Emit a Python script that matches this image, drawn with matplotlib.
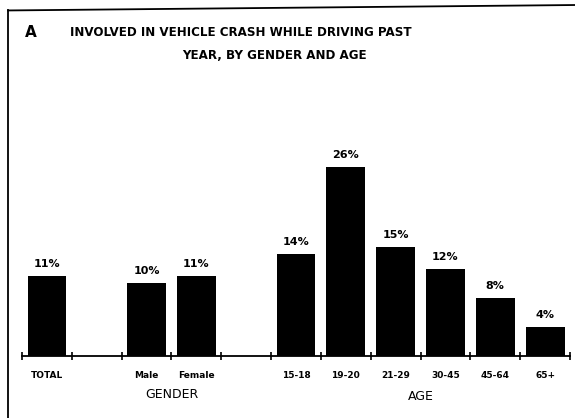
import matplotlib.pyplot as plt
from matplotlib.lines import Line2D

# crash rates, percent of drivers
total = [11]
gender = ['Male', 'Female']
gender_pct = [10, 11]
ages = ['15-18', '19-20', '21-29', '30-45', '45-64', '65+']
age_pct = [14, 26, 15, 12, 8, 4]

labels = ['TOTAL'] + gender + ages
values = total + gender_pct + age_pct
# slot positions along the axis, leaving gaps between groups
pos = [0, 2, 3, 5, 6, 7, 8, 9, 10]

plt.rcParams['font.family'] = 'DejaVu Sans'

fig = plt.figure(figsize=(5.75, 4.18), dpi=100)
ax = fig.add_axes([0.0383, 0.148, 0.953, 0.522])

ax.bar(pos, values, width=0.78, color='black')
for x, v in zip(pos, values):
    ax.text(x, v + 1.0, f'{v}%', ha='center', va='bottom',
            fontsize=8, fontweight='bold')

ax.set_xlim(-0.5, 10.5)
ax.set_ylim(0, 30)
ax.set_yticks([])
for s in ['left', 'right', 'top']:
    ax.spines[s].set_visible(False)
ax.spines['bottom'].set_linewidth(1.3)

# ticks sit on slot boundaries, labels under the bars
ax.set_xticks([i - 0.5 for i in range(12)])
ax.set_xticklabels([])
ax.tick_params(axis='x', direction='inout', length=6, width=1.2)
for x, lab in zip(pos, labels):
    ax.text(x, -2.1, lab, ha='center', va='top', fontsize=6.5,
            fontweight='bold')

ax.text(2.5, -4.4, 'GENDER', ha='center', va='top', fontsize=9)
ax.text(7.5, -4.6, 'AGE', ha='center', va='top', fontsize=9)

fig.text(0.043, 0.922, 'A', fontsize=11, fontweight='bold',
         ha='left', va='center')
fig.text(0.419, 0.922, 'INVOLVED IN VEHICLE CRASH WHILE DRIVING PAST',
         ha='center', va='center', fontsize=8.6, fontweight='bold')
fig.text(0.477, 0.868, 'YEAR, BY GENDER AND AGE',
         ha='center', va='center', fontsize=8.6, fontweight='bold')

# border lines
fig.add_artist(Line2D([0.014, 0.014], [0.0, 0.975], color='black', lw=1.3))
fig.add_artist(Line2D([0.014, 1.0], [0.975, 0.988], color='black', lw=1.3))

fig.savefig('out.png', dpi=100)
